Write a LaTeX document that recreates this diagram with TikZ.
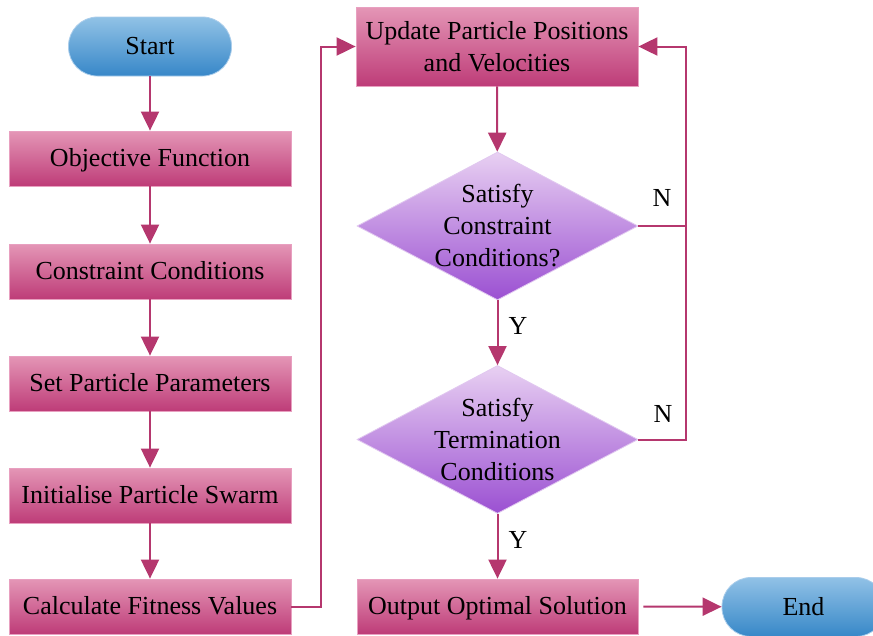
\documentclass[tikz,border=0pt]{standalone}
\usepackage{fontspec}
\setmainfont{Liberation Serif}
\usetikzlibrary{shapes.geometric,arrows.meta}
\definecolor{lnk}{RGB}{181,55,110}
\definecolor{pinkT}{RGB}{228,150,182}
\definecolor{pinkB}{RGB}{190,60,120}
\definecolor{pinkE}{RGB}{232,160,192}
\definecolor{blueT}{RGB}{145,194,230}
\definecolor{blueB}{RGB}{55,135,200}
\definecolor{blueE}{RGB}{170,205,235}
\definecolor{purT}{RGB}{232,208,242}
\definecolor{purB}{RGB}{155,80,210}
\definecolor{purE}{RGB}{225,200,240}
\begin{document}
\begin{tikzpicture}[x=1pt,y=-1pt,
  font=\fontsize{26}{32}\selectfont,
  boxbase/.style={rectangle, minimum width=282pt, minimum height=55pt, inner sep=0pt,
    top color=pinkT, bottom color=pinkB, draw=pinkE, line width=0.8pt, align=center},
  pbox/.style={boxbase, text height=18pt, text depth=2pt},
  term/.style={rectangle, rounded corners=29pt, minimum width=163pt, minimum height=59pt,
    text height=18pt, text depth=2pt,
    inner sep=0pt, top color=blueT, bottom color=blueB, draw=blueE, line width=0.8pt},
  dia/.style={diamond, minimum width=281pt, minimum height=148pt, inner sep=0pt,
    top color=purT, bottom color=purB, draw=purE, line width=0.8pt},
  lk/.style={draw=lnk, line width=2pt},
  arr/.style={lk, -{Triangle[length=19pt,width=18pt]}},
  lbl/.style={inner sep=0pt}]
\clip (0,0) rectangle (873,635);
\fill[white] (0,0) rectangle (873,635);

\node[term] (start) at (150,46.5) {Start};
\node[pbox] (obj) at (150,158.5) {Objective Function};
\node[pbox] (con) at (150,271.5) {Constraint Conditions};
\node[pbox] (set) at (150,383.5) {Set Particle Parameters};
\node[pbox] (ini) at (150,495.5) {Initialise Particle Swarm};
\node[pbox] (cal) at (150,606.5) {Calculate Fitness Values};

\node[boxbase, minimum height=79pt] (upd) at (497,46.5) {Update Particle Positions\\and Velocities};
\node[dia] (d1) at (497.5,226) {};
\node[align=center, inner sep=0pt] (d1t) at (d1.center) {Satisfy\\Constraint\\Conditions?};
\node[dia] (d2) at (497.5,439.5) {};
\node[align=center, inner sep=0pt] (d2t) at (d2.center) {Satisfy\\Termination\\Conditions};
\node[pbox, minimum width=281pt] (out) at (497.5,606.5) {Output Optimal Solution};
\node[term] (end) at (803.5,607) {End};

\coordinate (fb) at (686,46.5);
\coordinate (cj) at (321,606.5);

\draw[arr] (start) -- (obj);
\draw[arr] (obj) -- (con);
\draw[arr] (con) -- (set);
\draw[arr] (set) -- (ini);
\draw[arr] (ini) -- (cal);
\draw[arr] (cal.east) -- (cj) |- (upd.west);
\draw[arr] (upd) -- (d1);
\draw[arr] (d1) -- (d2);
\draw[arr] (d2) -- (out);
\draw[lk] (d1.east) -- (d1.east -| fb);
\draw[arr] (d2.east) -| (fb) -- (upd.east);
\draw[arr] ([xshift=5pt]out.east) -- (end);
\node[lbl] (y1) at (518,326) {Y};
\node[lbl] (y2) at (518,540) {Y};
\node[lbl] (n1) at (662,198) {N};
\node[lbl] (n2) at (663,414) {N};
\end{tikzpicture}
\end{document}
